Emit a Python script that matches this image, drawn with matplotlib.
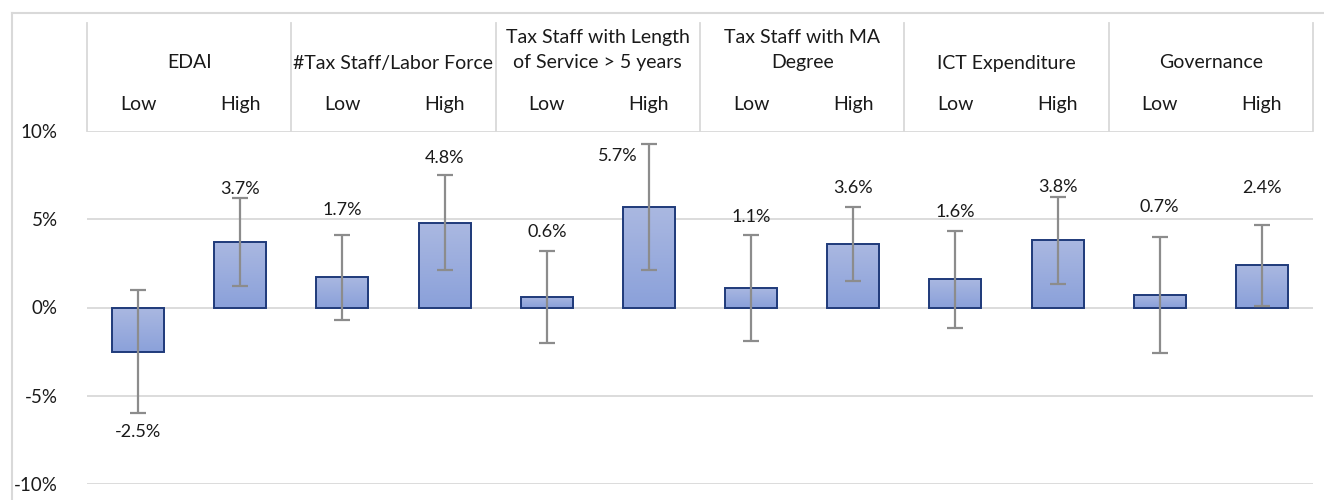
import numpy as np
import matplotlib.pyplot as plt
from matplotlib.lines import Line2D
from matplotlib.colors import LinearSegmentedColormap
import matplotlib.transforms as mtransforms

plt.rcParams['font.family'] = ['Lato', 'DejaVu Sans']

# groups shown along the top, each split into a Low and a High bar
groups = ["EDAI", "#Tax Staff/Labor Force", "Tax Staff with Length\nof Service > 5 years",
          "Tax Staff with MA\nDegree", "ICT Expenditure", "Governance"]
levels = ["Low", "High"]

# mean effect (%) and error half-width (%) for each bar, in group order Low/High
values = [-2.5, 3.7, 1.7, 4.8, 0.6, 5.7, 1.1, 3.6, 1.6, 3.8, 0.7, 2.4]
errors = [3.5, 2.5, 2.4, 2.7, 2.6, 3.55, 3.0, 2.1, 2.75, 2.45, 3.3, 2.3]

# where each value label sits (%), and a sideways nudge in bar units
label_y = [-7.05, 6.70, 5.51, 8.47, 4.26, 8.58, 5.11, 6.76, 5.40, 6.82, 5.68, 6.76]
label_dx = [0, 0, 0, 0, 0, -0.3, 0, 0, 0, 0, 0, 0]

W, H = 1324, 500
fig = plt.figure(figsize=(W / 100, H / 100), dpi=100)
ax = fig.add_axes([87 / W, 1 - 484 / H, (1313 - 87) / W, (484 - 131) / H])

grid_col = "#d9d9d9"
text_col = "#1a1a1a"
x = np.arange(len(values))

ax.set_yticks([-10, -5, 0, 5, 10])
ax.set_yticklabels(["-10%", "-5%", "0%", "5%", "10%"], fontsize=13.5, color=text_col)
ax.tick_params(axis="y", length=0, pad=21)
ax.set_xticks([])
for s in ax.spines.values():
    s.set_visible(False)
ax.grid(axis="y", color=grid_col, lw=1.3)
ax.set_axisbelow(True)

bars = ax.bar(x, values, width=0.51, color="none", edgecolor="#1f3a7a", lw=1.4, zorder=3)

# vertical gradient fill inside each bar
grad = np.linspace(0, 1, 64).reshape(-1, 1)
cmap = LinearSegmentedColormap.from_list("barfill", ["#8ba1da", "#aab8e1"])
for b in bars:
    x0, y0 = b.get_x(), b.get_y()
    bw, bh = b.get_width(), b.get_height()
    lo, hi = min(y0, y0 + bh), max(y0, y0 + bh)
    im = ax.imshow(grad, cmap=cmap, aspect="auto", origin="lower",
                   extent=(x0, x0 + bw, lo, hi), zorder=2)
    im.set_clip_path(b)
ax.set_xlim(-0.5, len(values) - 0.5)
ax.set_ylim(-10, 10)

ax.errorbar(x, values, yerr=errors, fmt="none", ecolor="#8c8c8c", elinewidth=1.6,
            capsize=6, capthick=1.6, zorder=4)

for i, v in enumerate(values):
    ax.text(x[i] + label_dx[i], label_y[i], f"{v:.1f}%", ha="center", va="center",
            fontsize=13, color=text_col, zorder=5)

# two-level category header above the plot
trans = mtransforms.blended_transform_factory(ax.transData, ax.transAxes)
top = 1 + (131 - 23) / (484 - 131)
for k in range(len(groups) + 1):
    ax.add_line(Line2D([2 * k - 0.5, 2 * k - 0.5], [1, top], transform=trans,
                       color=grid_col, lw=1.3, clip_on=False))
for g, name in enumerate(groups):
    ax.text(2 * g + 0.5, 1 + (131 - 50) / 353 if "\n" in name else 1 + (131 - 63) / 353,
            name, transform=trans, ha="center", va="center", fontsize=14,
            color=text_col, linespacing=1.55)
    for j, lev in enumerate(levels):
        ax.text(2 * g + j, 1 + (131 - 104) / 353, lev, transform=trans,
                ha="center", va="center", fontsize=14, color=text_col)

# chart frame (left and top edges fall inside the canvas)
fig.add_artist(Line2D([12 / W, 12 / W], [0, 1 - 13 / H], color=grid_col, lw=1.5))
fig.add_artist(Line2D([12 / W, 1], [1 - 13 / H, 1 - 13 / H], color=grid_col, lw=1.5))

fig.savefig("out.png", dpi=100)
